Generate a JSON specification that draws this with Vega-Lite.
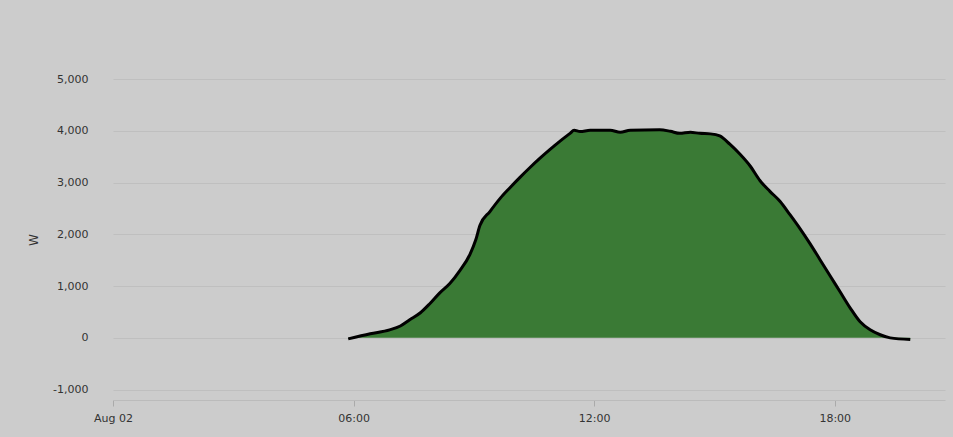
{
  "$schema": "https://vega.github.io/schema/vega-lite/v6.json",
  "autosize": {"type": "none"},
  "width": 832,
  "height": 321,
  "padding": {"left": 113, "top": 79, "right": 8, "bottom": 37},
  "background": "#cccccc",
  "config": {
    "view": {"stroke": null},
    "font": "DejaVu Sans",
    "axis": {"labelFont": "DejaVu Sans", "titleFont": "DejaVu Sans"}
  },
  "data": {
    "values": [
      {"t": "2019-08-02T05:52:00", "w": -20},
      {"t": "2019-08-02T06:25:00", "w": 80},
      {"t": "2019-08-02T06:54:00", "w": 155},
      {"t": "2019-08-02T07:10:00", "w": 230},
      {"t": "2019-08-02T07:24:00", "w": 350},
      {"t": "2019-08-02T07:40:00", "w": 485},
      {"t": "2019-08-02T07:54:00", "w": 660},
      {"t": "2019-08-02T08:09:00", "w": 870},
      {"t": "2019-08-02T08:24:00", "w": 1050},
      {"t": "2019-08-02T08:39:00", "w": 1300},
      {"t": "2019-08-02T08:54:00", "w": 1610},
      {"t": "2019-08-02T09:03:00", "w": 1900},
      {"t": "2019-08-02T09:09:00", "w": 2170},
      {"t": "2019-08-02T09:24:00", "w": 2440},
      {"t": "2019-08-02T09:39:00", "w": 2690},
      {"t": "2019-08-02T09:54:00", "w": 2900},
      {"t": "2019-08-02T10:09:00", "w": 3100},
      {"t": "2019-08-02T10:24:00", "w": 3290},
      {"t": "2019-08-02T10:39:00", "w": 3470},
      {"t": "2019-08-02T10:54:00", "w": 3640},
      {"t": "2019-08-02T11:09:00", "w": 3800},
      {"t": "2019-08-02T11:24:00", "w": 3950},
      {"t": "2019-08-02T11:30:00", "w": 4010},
      {"t": "2019-08-02T11:39:00", "w": 3985},
      {"t": "2019-08-02T11:54:00", "w": 4010},
      {"t": "2019-08-02T12:24:00", "w": 4010},
      {"t": "2019-08-02T12:39:00", "w": 3970},
      {"t": "2019-08-02T12:54:00", "w": 4010},
      {"t": "2019-08-02T13:38:00", "w": 4020},
      {"t": "2019-08-02T13:54:00", "w": 3990},
      {"t": "2019-08-02T14:08:00", "w": 3950},
      {"t": "2019-08-02T14:24:00", "w": 3970},
      {"t": "2019-08-02T14:38:00", "w": 3950},
      {"t": "2019-08-02T14:54:00", "w": 3940},
      {"t": "2019-08-02T15:08:00", "w": 3900},
      {"t": "2019-08-02T15:23:00", "w": 3740},
      {"t": "2019-08-02T15:38:00", "w": 3550},
      {"t": "2019-08-02T15:54:00", "w": 3310},
      {"t": "2019-08-02T16:08:00", "w": 3040},
      {"t": "2019-08-02T16:23:00", "w": 2830},
      {"t": "2019-08-02T16:38:00", "w": 2640},
      {"t": "2019-08-02T16:53:00", "w": 2380},
      {"t": "2019-08-02T17:08:00", "w": 2110},
      {"t": "2019-08-02T17:23:00", "w": 1820},
      {"t": "2019-08-02T17:38:00", "w": 1510},
      {"t": "2019-08-02T17:53:00", "w": 1200},
      {"t": "2019-08-02T18:08:00", "w": 890},
      {"t": "2019-08-02T18:23:00", "w": 580},
      {"t": "2019-08-02T18:38:00", "w": 310},
      {"t": "2019-08-02T18:53:00", "w": 155},
      {"t": "2019-08-02T19:08:00", "w": 60},
      {"t": "2019-08-02T19:23:00", "w": 0},
      {"t": "2019-08-02T19:53:00", "w": -30}
    ]
  },
  "mark": {
    "type": "area",
    "color": "#3a7a35",
    "opacity": 1,
    "interpolate": "monotone",
    "line": {"color": "#000000", "strokeWidth": 3, "interpolate": "monotone"}
  },
  "encoding": {
    "x": {
      "field": "t",
      "type": "temporal",
      "scale": {"domain": ["2019-08-02T00:00:00", "2019-08-02T20:45:00"]},
      "axis": {
        "title": null,
        "grid": false,
        "values": ["2019-08-02T00:00:00", "2019-08-02T06:00:00", "2019-08-02T12:00:00", "2019-08-02T18:00:00"],
        "labelExpr": "hours(datum.value) == 0 ? timeFormat(datum.value, '%b %d') : timeFormat(datum.value, '%H:%M')",
        "labelFontSize": 11,
        "labelColor": "#333333",
        "labelPadding": 6,
        "tickSize": 6,
        "tickColor": "#aaaaaa",
        "domainColor": "#bbbbbb",
        "labelFlush": false
      }
    },
    "y": {
      "field": "w",
      "type": "quantitative",
      "scale": {"domain": [-1200, 5000], "nice": false, "zero": false},
      "axis": {
        "title": "W",
        "titleFontSize": 12,
        "titleFontWeight": "normal",
        "titleColor": "#333333",
        "titlePadding": 12,
        "values": [-1000, 0, 1000, 2000, 3000, 4000, 5000],
        "labelExpr": "replace(format(datum.value, ',d'), '\u2212', '-')",
        "labelFontSize": 11,
        "labelColor": "#333333",
        "labelPadding": 25,
        "ticks": false,
        "domain": false,
        "gridColor": "#bfbfbf",
        "gridWidth": 1
      }
    },
    "y2": {"datum": 0}
  }
}
